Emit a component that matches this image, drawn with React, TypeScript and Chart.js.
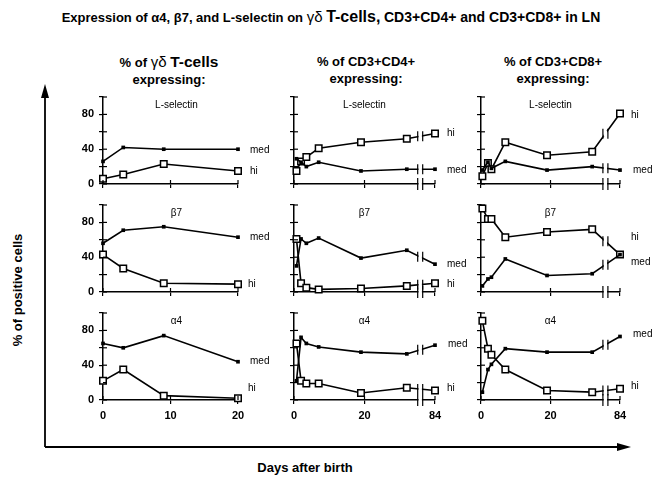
import React, { useEffect, useRef } from "react";
import { Chart, registerables } from "chart.js";
Chart.register(...registerables);

// ---- data ----
const gdDays = [0, 3, 9, 20];
const cd4Days = [0.7, 2, 3.5, 7, 19, 32, 84];
const cd8Days = [0.4, 2, 3, 7, 19, 32, 84];

const gdLselMed = [26, 42, 40, 40];
const gdLselHi = [6, 11, 23, 15];
const gdB7Med = [56, 71, 75, 63];
const gdB7Hi = [43, 27, 10, 9];
const gdA4Med = [65, 60, 74, 44];
const gdA4Hi = [22, 35, 5, 2];

const cd4LselMed = [29, 25, 20, 25, 15, 17, 17];
const cd4LselHi = [15, 26, 31, 41, 48, 52, 58];
const cd4B7Med = [30, 61, 56, 62, 39, 48, 32];
const cd4B7Hi = [61, 10, 5, 3, 4, 7, 10];
const cd4A4Med = [22, 72, 65, 61, 55, 53, 63];
const cd4A4Hi = [65, 22, 19, 19, 8, 14, 11];

const cd8LselMed = [16, 25, 18, 26, 16, 20, 16];
const cd8LselHi = [9, 24, 17, 48, 33, 37, 81];
const cd8B7Med = [7, 15, 17, 38, 19, 21, 43];
const cd8B7Hi = [96, 84, 84, 63, 69, 72, 43];
const cd8A4Med = [9, 35, 41, 59, 55, 55, 73];
const cd8A4Hi = [91, 59, 52, 35, 11, 9, 13];

const yTicks = [0, 20, 40, 60, 80, 100];
const yLabelTicks = [0, 40, 80];
const gdXTicks = [0, 10, 20];
const brokenXTicks = [0, 20, 40];
const brokenXLabels: Record<number, string> = { 0: "0", 20: "20", 40: "84" };
const BREAK_AT = 35.8; // axis position of the break
const LATE_POS = 40; // axis position where day 84 is drawn

const FONT = '"Liberation Sans", Arial, sans-serif';

const toPos = (d: number) => (d > 36 ? LATE_POS : d);

const decorPlugin = {
  id: "decor",
  afterDraw(chart: any, _args: any, opts: any) {
    const { ctx, chartArea: ca, scales } = chart;
    const xs = scales.x;
    const ys = scales.y;
    ctx.save();
    ctx.strokeStyle = "#000";
    ctx.lineWidth = 1.2;
    const line = (x1: number, y1: number, x2: number, y2: number) => {
      ctx.beginPath();
      ctx.moveTo(x1, y1);
      ctx.lineTo(x2, y2);
      ctx.stroke();
    };
    ys.ticks.forEach((t: any) => {
      const p = ys.getPixelForValue(t.value);
      line(ca.left, p, ca.left + 4, p);
    });
    xs.ticks.forEach((t: any) => {
      const p = xs.getPixelForValue(t.value);
      line(p, ca.bottom, p, ca.bottom - 4);
    });
    if (opts.broken) {
      const bx = xs.getPixelForValue(BREAK_AT);
      const g = 2.5;
      ctx.fillStyle = "#fff";
      ctx.fillRect(bx - g + 0.8, ca.bottom - 2, 2 * g - 1.6, 4);
      line(bx - g, ca.bottom - 6, bx - g, ca.bottom + 6);
      line(bx + g, ca.bottom - 6, bx + g, ca.bottom + 6);
      chart.data.datasets.forEach((_ds: any, i: number) => {
        const pts = chart.getDatasetMeta(i).data;
        const n = pts.length;
        const a = pts[n - 2];
        const b = pts[n - 1];
        const t = (bx - a.x) / (b.x - a.x);
        const y = a.y + t * (b.y - a.y);
        ctx.fillStyle = "#fff";
        ctx.fillRect(bx - g + 0.8, y - 3, 2 * g - 1.6, 6);
        line(bx - g, y - 5, bx - g, y + 5);
        line(bx + g, y - 5, bx + g, y + 5);
      });
    }
    ctx.fillStyle = "#000";
    ctx.font = `10px ${FONT}`;
    ctx.textAlign = "center";
    ctx.textBaseline = "middle";
    ctx.fillText(opts.title, (ca.left + ca.right) / 2 + (opts.titleDx || 0), ca.top + 8);
    ctx.textAlign = "left";
    (opts.series || []).forEach((s: any) => {
      const pts = chart.getDatasetMeta(s.ds).data;
      const p = pts[pts.length - 1];
      ctx.fillText(s.text, p.x + s.dx, p.y + s.dy);
    });
    ctx.restore();
  },
};

type PanelProps = {
  left: number;
  top: number;
  w: number;
  h: number;
  days: number[];
  med: number[];
  hi: number[];
  title: string;
  titleDx?: number;
  broken: boolean;
  showY: boolean;
  showX: boolean;
  series: { ds: number; text: string; dx: number; dy: number }[];
};

const PAD_L = 40;
const PAD_R = 48;
const PAD_T = 15;
const PAD_B = 25;
const Y_W = 30;
const X_H = 22;

function Panel(p: PanelProps) {
  const ref = useRef<HTMLCanvasElement>(null);
  useEffect(() => {
    const mk = (vals: number[]) => p.days.map((d, i) => ({ x: p.broken ? toPos(d) : d, y: vals[i] }));
    const chart = new Chart(ref.current!, {
      type: "line",
      data: {
        datasets: [
          {
            data: mk(p.med),
            borderColor: "#000",
            borderWidth: 1.6,
            pointStyle: "rect",
            pointRadius: 2.6,
            pointBackgroundColor: "#000",
            pointBorderColor: "#000",
            pointBorderWidth: 0,
            clip: false as any,
          },
          {
            data: mk(p.hi),
            borderColor: "#000",
            borderWidth: 1.6,
            pointStyle: "rect",
            pointRadius: 4.6,
            pointBackgroundColor: "#fff",
            pointBorderColor: "#000",
            pointBorderWidth: 1.5,
            clip: false as any,
          },
        ],
      },
      options: {
        animation: false,
        responsive: false,
        devicePixelRatio: 1,
        layout: { padding: { left: PAD_L - Y_W, right: PAD_R, top: PAD_T, bottom: PAD_B - X_H } },
        plugins: {
          legend: { display: false },
          tooltip: { enabled: false },
          decor: { broken: p.broken, title: p.title, titleDx: p.titleDx, series: p.series },
        } as any,
        scales: {
          x: {
            type: "linear",
            min: 0,
            max: p.broken ? LATE_POS : 20,
            afterFit: (s: any) => {
              s.height = X_H;
            },
            afterBuildTicks: (s: any) => {
              s.ticks = (p.broken ? brokenXTicks : gdXTicks).map((v) => ({ value: v }));
            },
            ticks: {
              display: p.showX,
              color: "#000",
              padding: 5,
              maxRotation: 0,
              font: { family: FONT, size: 11, weight: "bold" },
              callback: (v: any) => (p.broken ? brokenXLabels[v] ?? "" : String(v)),
            },
            grid: { drawOnChartArea: false, drawTicks: true, tickLength: 4, color: "#000", lineWidth: 1.2 },
            border: { color: "#000", width: 1.5 },
          },
          y: {
            type: "linear",
            min: 0,
            max: 100,
            afterFit: (s: any) => {
              s.width = Y_W;
            },
            afterBuildTicks: (s: any) => {
              s.ticks = yTicks.map((v) => ({ value: v }));
            },
            ticks: {
              display: true,
              color: "#000",
              padding: 5,
              font: { family: FONT, size: 11, weight: "bold" },
              callback: (v: any) => (p.showY && yLabelTicks.includes(v) ? String(v) : ""),
            },
            grid: { drawOnChartArea: false, drawTicks: true, tickLength: 4, color: "#000", lineWidth: 1.2 },
            border: { color: "#000", width: 1.5 },
          },
        },
      },
      plugins: [decorPlugin],
    });
    return () => chart.destroy();
  }, []);
  const cw = p.w + PAD_L + PAD_R;
  const chh = p.h + PAD_T + PAD_B;
  return (
    <canvas
      ref={ref}
      width={cw}
      height={chh}
      style={{ position: "absolute", left: p.left - PAD_L, top: p.top - PAD_T, width: cw, height: chh }}
    />
  );
}

const COLS = [
  { left: 103, w: 135, days: gdDays, broken: false, showY: true, titleDx: 6 },
  { left: 294, w: 141, days: cd4Days, broken: true, showY: false, titleDx: 0 },
  { left: 481, w: 139, days: cd8Days, broken: true, showY: false, titleDx: 0 },
];
const ROW_TOPS = [97, 205, 313];
const ROW_H = 87;

const PANELS = [
  // row 1: L-selectin
  { c: 0, r: 0, title: "L-selectin", med: gdLselMed, hi: gdLselHi, series: [{ ds: 0, text: "med", dx: 12, dy: 1 }, { ds: 1, text: "hi", dx: 12, dy: 0 }] },
  { c: 1, r: 0, title: "L-selectin", med: cd4LselMed, hi: cd4LselHi, series: [{ ds: 0, text: "med", dx: 12, dy: 1 }, { ds: 1, text: "hi", dx: 12, dy: 0 }] },
  { c: 2, r: 0, title: "L-selectin", med: cd8LselMed, hi: cd8LselHi, series: [{ ds: 0, text: "med", dx: 13, dy: 0 }, { ds: 1, text: "hi", dx: 11, dy: 2 }] },
  // row 2: beta7
  { c: 0, r: 1, title: "β7", med: gdB7Med, hi: gdB7Hi, series: [{ ds: 0, text: "med", dx: 12, dy: 0 }, { ds: 1, text: "hi", dx: 10, dy: 0 }] },
  { c: 1, r: 1, title: "β7", med: cd4B7Med, hi: cd4B7Hi, series: [{ ds: 0, text: "med", dx: 12, dy: 0 }, { ds: 1, text: "hi", dx: 12, dy: 1 }] },
  { c: 2, r: 1, title: "β7", med: cd8B7Med, hi: cd8B7Hi, series: [{ ds: 0, text: "med", dx: 11, dy: 8 }, { ds: 1, text: "hi", dx: 11, dy: -17 }] },
  // row 3: alpha4
  { c: 0, r: 2, title: "α4", med: gdA4Med, hi: gdA4Hi, series: [{ ds: 0, text: "med", dx: 12, dy: 0 }, { ds: 1, text: "hi", dx: 10, dy: -10 }] },
  { c: 1, r: 2, title: "α4", med: cd4A4Med, hi: cd4A4Hi, series: [{ ds: 0, text: "med", dx: 13, dy: -1 }, { ds: 1, text: "hi", dx: 12, dy: -2 }] },
  { c: 2, r: 2, title: "α4", med: cd8A4Med, hi: cd8A4Hi, series: [{ ds: 0, text: "med", dx: 13, dy: -2 }, { ds: 1, text: "hi", dx: 11, dy: -2 }] },
];

function Header({ cx, first }: { cx: number; first: React.ReactNode }) {
  return (
    <div
      style={{
        position: "absolute",
        left: cx - 100,
        top: 53,
        width: 200,
        textAlign: "center",
        fontFamily: FONT,
        fontWeight: "bold",
        fontSize: 13,
        lineHeight: "17px",
        color: "#000",
        whiteSpace: "nowrap",
      }}
    >
      <div>{first}</div>
      <div>expressing:</div>
    </div>
  );
}

export default function App() {
  return (
    <div
      style={{
        position: "fixed",
        left: 0,
        top: 0,
        width: 662,
        height: 489,
        background: "#fff",
        overflow: "hidden",
        fontFamily: FONT,
        color: "#000",
      }}
    >
      <div
        style={{
          position: "absolute",
          left: 0,
          top: 8,
          width: 662,
          textAlign: "center",
          fontFamily: FONT,
          fontWeight: "bold",
          fontSize: 13,
          whiteSpace: "nowrap",
        }}
      >
        Expression of α4, β7, and L-selectin on <span style={{ fontSize: 15, fontWeight: "normal" }}>γδ</span>{" "}
        <span style={{ fontSize: 16 }}>T-cells,</span> <span style={{ fontSize: 14 }}>CD3+CD4+ and CD3+CD8+ in LN</span>
      </div>

      <Header cx={169} first={<span>% of <span style={{ fontWeight: "normal", fontSize: 15 }}>γδ</span> <span style={{ fontSize: 15.5 }}>T-cells</span></span>} />
      <Header cx={366} first={<span>% of CD3+CD4+</span>} />
      <Header cx={553} first={<span>% of CD3+CD8+</span>} />

      <svg width={662} height={489} style={{ position: "absolute", left: 0, top: 0 }}>
        <line x1={45} y1={447} x2={45} y2={95} stroke="#000" strokeWidth={1.8} />
        <polygon points="45,84 41,98 49,98" fill="#000" />
        <line x1={45} y1={447} x2={620} y2={447} stroke="#000" strokeWidth={1.8} />
        <polygon points="631,447 617,443 617,451" fill="#000" />
      </svg>

      <div
        style={{
          position: "absolute",
          left: 18 - 80,
          top: 290 - 8,
          width: 160,
          height: 16,
          textAlign: "center",
          transform: "rotate(-90deg)",
          fontFamily: FONT,
          fontWeight: "bold",
          fontSize: 13,
          lineHeight: "16px",
          whiteSpace: "nowrap",
        }}
      >
        % of positive cells
      </div>
      <div
        style={{
          position: "absolute",
          left: 205,
          top: 460,
          width: 200,
          textAlign: "center",
          fontFamily: FONT,
          fontWeight: "bold",
          fontSize: 13,
          whiteSpace: "nowrap",
        }}
      >
        Days after birth
      </div>

      {PANELS.map((pp, i) => {
        const col = COLS[pp.c];
        return (
          <Panel
            key={i}
            left={col.left}
            top={ROW_TOPS[pp.r]}
            w={col.w}
            h={ROW_H}
            days={col.days}
            med={pp.med}
            hi={pp.hi}
            title={pp.title}
            titleDx={col.titleDx}
            broken={col.broken}
            showY={col.showY}
            showX={pp.r === 2}
            series={pp.series}
          />
        );
      })}
    </div>
  );
}
